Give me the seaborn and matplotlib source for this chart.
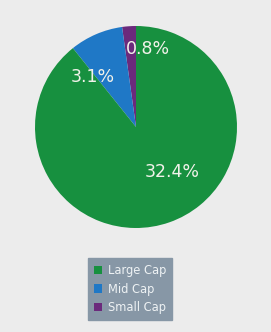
import numpy as np
import matplotlib
matplotlib.use("Agg")
import matplotlib.pyplot as plt
import seaborn as sns

# données du graphique
categories = ["Small Cap", "Mid Cap", "Large Cap"]
values = [0.8, 3.1, 32.4]
labels = ["0.8%", "3.1%", "32.4%"]
colors = ["#6b2a7c", "#1f78c6", "#17903f"]

sns.set_style("white")
plt.rcParams["font.family"] = ["DejaVu Sans"]

BG = "#ececec"
fig = plt.figure(figsize=(2.71, 3.32), dpi=100, facecolor=BG)
ax = fig.add_axes([35 / 271, 104 / 332, 202 / 271, 202 / 332])
ax.set_facecolor(BG)

wedges, _ = ax.pie(values, colors=colors, startangle=90, counterclock=True,
                   radius=1, wedgeprops=dict(linewidth=0))
ax.set_xlim(-1, 1)
ax.set_ylim(-1, 1)
ax.set_aspect("equal")
ax.axis("off")

# position des étiquettes (angle en degrés, distance au centre)
label_pos = [(81, 0.78), (131, 0.66), (-51, 0.57)]
for txt, (ang, dist) in zip(labels, label_pos):
    a = np.deg2rad(ang)
    ax.text(dist * np.cos(a), dist * np.sin(a), txt, ha="center", va="center",
            fontsize=12.5, color="#f2f2ea")

# légende dans l'ordre Large / Mid / Small
order = [2, 1, 0]
leg = fig.legend([wedges[i] for i in order], [categories[i] for i in order],
                 loc="upper left", bbox_to_anchor=(88 / 271, 1 - 258 / 332),
                 frameon=True, fancybox=False, facecolor="#8797a6",
                 edgecolor="#8797a6", framealpha=1, fontsize=8.3,
                 handlelength=0.7, handleheight=0.7, handletextpad=0.5,
                 labelspacing=0.5, borderpad=0.5, borderaxespad=0)
for t in leg.get_texts():
    t.set_color("#eef2f4")

plt.savefig("out.png", dpi=100, facecolor=BG)
